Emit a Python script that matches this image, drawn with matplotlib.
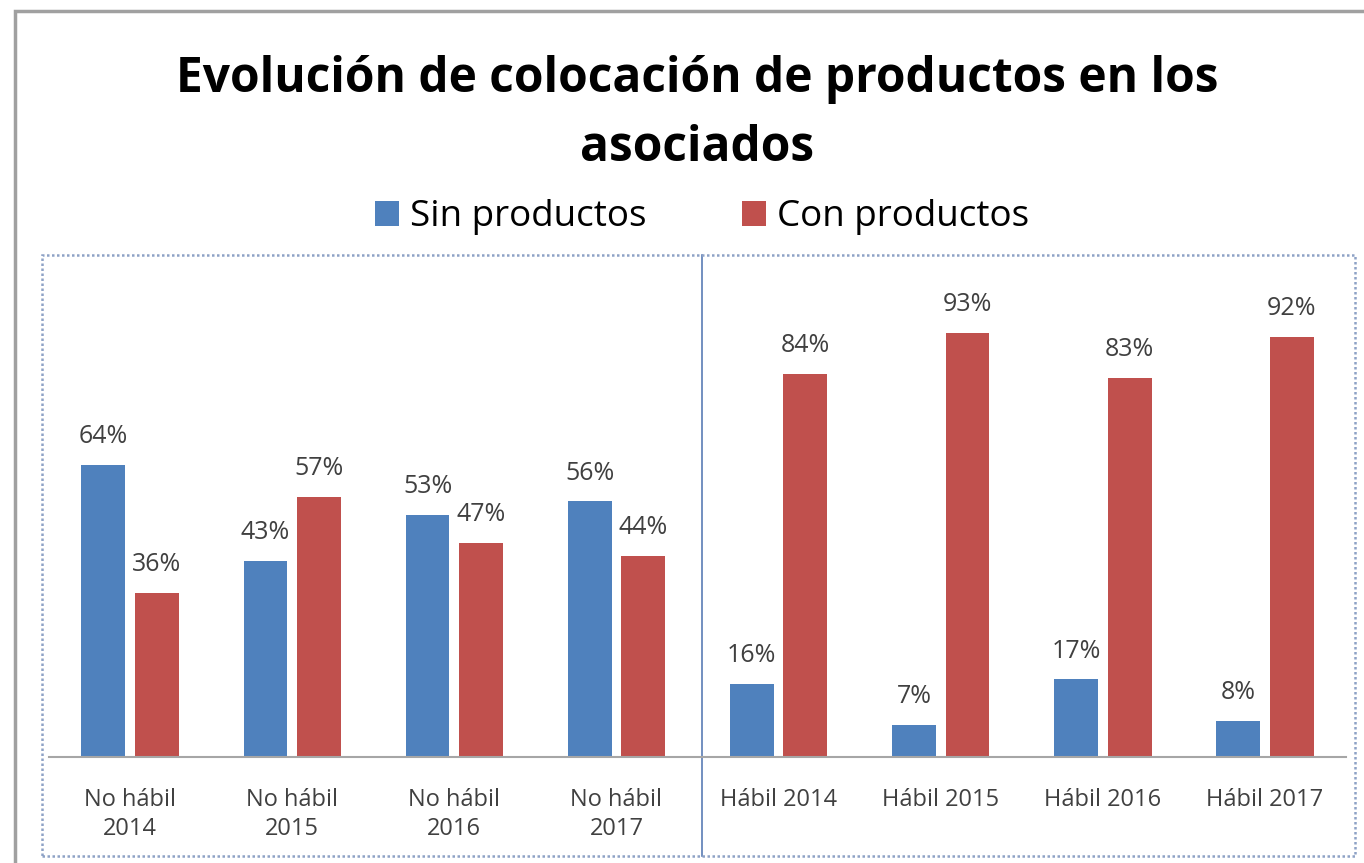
import matplotlib.pyplot as plt
import numpy as np
from matplotlib.patches import Rectangle
from matplotlib.lines import Line2D
import matplotlib.transforms as mtransforms

categories = ["No hábil\n2014", "No hábil\n2015", "No hábil\n2016", "No hábil\n2017",
              "Hábil 2014", "Hábil 2015", "Hábil 2016", "Hábil 2017"]
sin_productos = [64, 43, 53, 56, 16, 7, 17, 8]
con_productos = [36, 57, 47, 44, 84, 93, 83, 92]

blue = "#4F81BD"
red = "#C0504D"
txt = "#404040"

plt.rcParams['font.family'] = ['Open Sans', 'DejaVu Sans']

fig = plt.figure(figsize=(13.64, 8.63), dpi=100)
ax = fig.add_axes([0.0359, 0.1228, 0.951, 0.5817])

x = np.arange(len(categories))
w = 0.27
off = 0.165
b1 = ax.bar(x - off, sin_productos, w, color=blue, label="Sin productos")
b2 = ax.bar(x + off, con_productos, w, color=red, label="Con productos")

for bars, vals in ((b1, sin_productos), (b2, con_productos)):
    for b, v in zip(bars, vals):
        ax.text(b.get_x() + b.get_width() / 2, v + 6.2, f"{v}%", ha="center",
                va="center", fontsize=18, color=txt)

ax.set_xlim(-0.5, len(categories) - 0.5)
ax.set_ylim(0, 110)
ax.set_yticks([])
ax.set_xticks(x)
ax.set_xticklabels(categories, fontsize=17, color=txt, linespacing=1.3)
ax.tick_params(axis="x", length=0, pad=22)
for s in ["top", "right", "left"]:
    ax.spines[s].set_visible(False)
ax.spines["bottom"].set_color("#A6A6A6")
ax.spines["bottom"].set_linewidth(1.5)
ax.patch.set_visible(False)

# divider between the two groups, spanning the whole plot frame
trans = mtransforms.blended_transform_factory(ax.transData, fig.transFigure)
ax.add_line(Line2D([3.53, 3.53], [0.0081, 0.7045], transform=trans, color="#5A7DB5",
                   lw=1.2, clip_on=False))

# plot area frame (dotted) and outer chart frame
fig.patches.append(Rectangle((0.0308, 0.0081), 0.9626, 0.6964, transform=fig.transFigure,
                             fill=False, ec="#8EA2C6", lw=1.8, ls=(0, (1, 1))))
fig.patches.append(Rectangle((0.011, -0.02), 1.0, 1.007, transform=fig.transFigure,
                             fill=False, ec="#A0A0A0", lw=2.5))

fig.text(0.511, 0.908, "Evolución de colocación de productos en los", ha="center",
         va="center", fontsize=34.5, fontweight="bold", color="black")
fig.text(0.511, 0.828, "asociados", ha="center", va="center", fontsize=34.5,
         fontweight="bold", color="black")

fig.legend(handles=[b1, b2], loc="center", bbox_to_anchor=(0.515, 0.748), ncol=2,
           frameon=False, fontsize=26.5, handlelength=0.65, handleheight=0.65,
           handletextpad=0.3, columnspacing=2.6)

fig.savefig("out.png", dpi=100)
